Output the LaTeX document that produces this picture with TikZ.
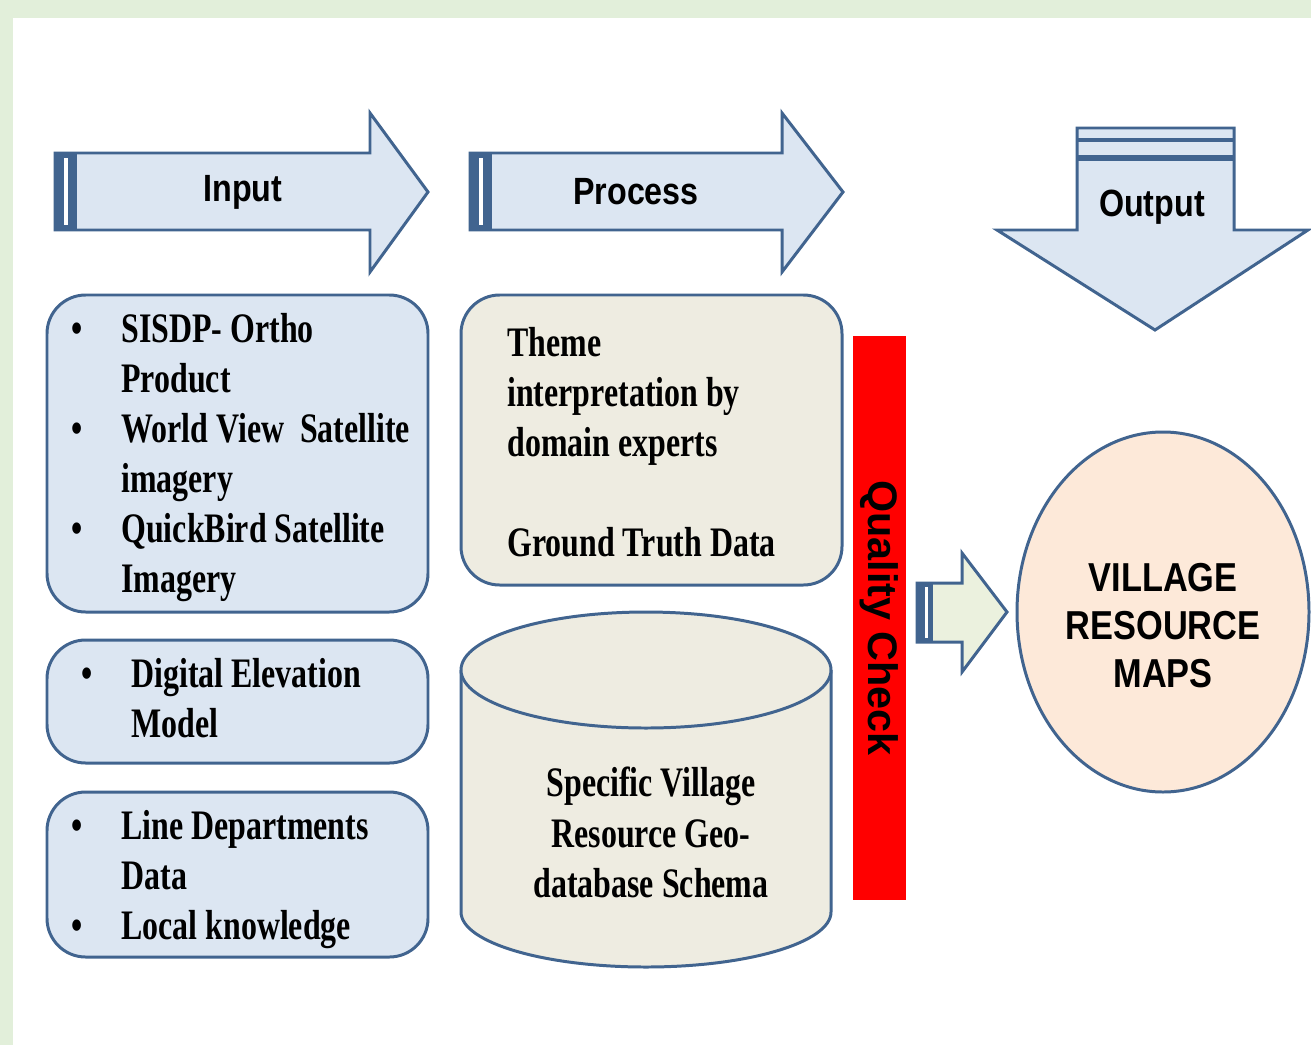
\documentclass[tikz,border=0pt]{standalone}
\usepackage{fontspec}
\newfontfamily\cserif[FakeStretch=0.76]{Liberation Serif}
\newfontfamily\csans[FakeStretch=0.85]{Liberation Sans}
\newfontfamily\plainsans{Liberation Sans}
\definecolor{bgGreen}{HTML}{E2EFDA}
\definecolor{edgeBlue}{HTML}{41648F}
\definecolor{fillBlue}{HTML}{DCE6F2}
\definecolor{fillBeige}{HTML}{EEECE1}
\definecolor{fillGreen}{HTML}{EBF1DE}
\definecolor{fillPeach}{HTML}{FDE9D9}
\newcommand{\bl}{\makebox[28.5pt][l]{•}}
\newcommand{\ind}{\hspace*{28.5pt}}
\tikzset{
  outl/.style={draw=edgeBlue, line width=1.7pt, line join=miter},
  inbox/.style={outl, fill=fillBlue, rounded corners=22pt},
  bodytext/.style={anchor=north west, inner sep=0pt, align=left,
    font=\cserif\bfseries\fontsize{23.9}{28.5}\selectfont},
  headtext/.style={inner sep=0pt, font=\csans\bfseries\fontsize{21.6}{26}\selectfont},
}
\begin{document}
\begin{tikzpicture}[x=0.02cm, y=-0.02cm]
% background
\fill[bgGreen] (0,0) rectangle (1311,1045);
\fill[white] (13,18) rectangle (1311,1045);
\useasboundingbox (0,0) rectangle (1311,1045);

% Input arrow
\draw[outl, fill=fillBlue] (55,153) -- (370,153) -- (370,113) -- (428,192) -- (370,272) -- (370,230) -- (55,230) -- cycle;
\fill[edgeBlue] (55,153) rectangle (77,230);
\fill[white] (64,158) rectangle (68,225);
\node[headtext] (inlab) at (243,192) {Input};

% Process arrow
\draw[outl, fill=fillBlue] (470,153) -- (782,153) -- (782,113) -- (843,192) -- (782,272) -- (782,230) -- (470,230) -- cycle;
\fill[edgeBlue] (470,153) rectangle (492,230);
\fill[white] (479,158) rectangle (483,225);
\node[headtext] (prlab) at (636,192) {Process};

% Output arrow
\draw[outl, fill=fillBlue] (1077,230) -- (1077,128) -- (1234,128) -- (1234,230) -- (1308,230) -- (1155,330) -- (997,230) -- cycle;
\draw[edgeBlue, line width=2.2pt] (1077,140) -- (1234,140);
\draw[edgeBlue, line width=3pt] (1077,158) -- (1234,158);
\node[headtext] (outlab) at (1152,207) {Output};

% Input boxes
\draw[inbox] (47,295) rectangle (428,612);
\node[bodytext] (in1) at (71,313) {\bl SISDP- Ortho\\ \ind Product\\ \bl World View\ \ Satellite\\ \ind imagery\\ \bl QuickBird Satellite\\ \ind Imagery};
\draw[inbox] (47,640) rectangle (428,763);
\node[bodytext] (in2) at (81,658) {\bl Digital Elevation\\ \ind Model};
\draw[inbox] (47,792) rectangle (428,957);
\node[bodytext] (in3) at (71,810) {\bl Line Departments\\ \ind Data\\ \bl Local knowledge};

% Process box
\draw[outl, fill=fillBeige, rounded corners=22pt] (461,295) rectangle (842,585);
\node[bodytext] (pr1) at (507,327) {Theme\\ interpretation by\\ domain experts\\[28.5pt] Ground Truth Data};

% Cylinder
\draw[outl, fill=fillBeige] (461,670) -- (461,912) arc[start angle=180, end angle=0, x radius=185, y radius=55] -- (831,670);
\draw[outl, fill=fillBeige] (646,670) ellipse[x radius=185, y radius=58];
\node[bodytext, anchor=north, align=center] (db) at (651,767) {Specific Village\\ Resource Geo-\\ database Schema};

% Quality check bar
\fill[red] (853,336) rectangle (906,900);
\node[inner sep=0pt, rotate=-90, font=\plainsans\bfseries\fontsize{23.5}{26}\selectfont] (qc) at (879,618) {Quality Check};

% small arrow
\draw[outl, fill=fillGreen] (917,583) -- (962,583) -- (962,553) -- (1007,612) -- (962,672) -- (962,642) -- (917,642) -- cycle;
\fill[edgeBlue] (917,583) rectangle (933,642);
\fill[white] (925,587) rectangle (928,638);

% result ellipse
\draw[outl, fill=fillPeach] (1163,612) ellipse[x radius=146, y radius=180];
\node[headtext, align=center, font=\csans\bfseries\fontsize{23}{27.3}\selectfont] (res) at (1163,626) {VILLAGE\\RESOURCE\\MAPS};
\end{tikzpicture}
\end{document}
